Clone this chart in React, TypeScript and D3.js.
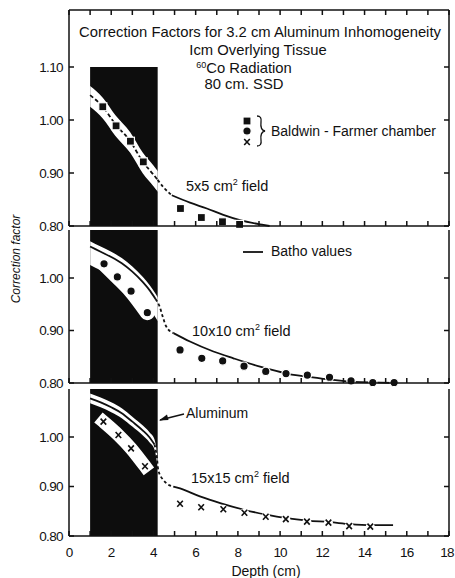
import React, { useEffect, useRef } from 'react';
import * as d3 from 'd3';

// depth (cm) on x, correction factor on y
const depthLabels = [0, 2, 4, 6, 8, 10, 12, 14, 16, 18];
const factorLabels5 = [1.1, 1.0, 0.9, 0.8];
const factorLabels = [1.0, 0.9, 0.8];
const aluminumSlab = [1.0, 4.2];

// 5x5 cm2 field - squares
const squareDepth = [1.6, 2.23, 2.91, 3.52, 5.28, 6.27, 7.27, 8.08];
const squareFactor = [1.025, 0.989, 0.96, 0.921, 0.833, 0.816, 0.808, 0.803];
const batho5AlDepth = [1.0, 1.6, 2.2, 2.9, 3.5, 4.0, 4.2];
const batho5AlFactor = [1.047, 1.025, 0.992, 0.96, 0.921, 0.897, 0.887];
const batho5EdgeDepth = [4.2, 4.5, 4.87];
const batho5EdgeFactor = [0.887, 0.872, 0.858];
const batho5TissueDepth = [4.87, 5.73, 6.53, 7.31, 8.1, 9.21, 9.5];
const batho5TissueFactor = [0.858, 0.844, 0.833, 0.821, 0.811, 0.802, 0.8];

// 10x10 cm2 field - circles
const circleDepth = [1.66, 2.29, 2.94, 3.71, 5.26, 6.29, 7.28, 8.29, 9.32, 10.28, 11.29, 12.34, 13.36, 14.39, 15.4];
const circleFactor = [1.027, 1.002, 0.975, 0.934, 0.863, 0.847, 0.842, 0.832, 0.822, 0.818, 0.815, 0.811, 0.804, 0.801, 0.801];
const batho10AlDepth = [1.0, 1.5, 2.0, 2.5, 3.0, 3.5, 3.85, 4.1];
const batho10AlFactor = [1.06, 1.05, 1.04, 1.028, 1.012, 0.992, 0.975, 0.96];
const batho10EdgeDepth = [4.1, 4.3, 4.45, 4.6, 4.95];
const batho10EdgeFactor = [0.96, 0.945, 0.925, 0.908, 0.895];
const batho10TissueDepth = [4.95, 5.73, 6.84, 7.79, 9.05, 10.32, 11.9, 13.47, 15.36];
const batho10TissueFactor = [0.895, 0.879, 0.86, 0.847, 0.831, 0.818, 0.809, 0.802, 0.8];

// 15x15 cm2 field - crosses
const crossDepth = [1.63, 2.34, 2.94, 3.6, 5.26, 6.26, 7.31, 8.31, 9.32, 10.27, 11.27, 12.29, 13.27, 14.27];
const crossFactor = [1.031, 1.004, 0.977, 0.941, 0.865, 0.858, 0.854, 0.847, 0.839, 0.834, 0.829, 0.827, 0.82, 0.819];
const batho15AlDepth = [1.0, 1.5, 2.0, 2.5, 3.0, 3.5, 3.8, 4.05];
const batho15AlFactor = [1.078, 1.07, 1.06, 1.048, 1.031, 1.013, 1.0, 0.985];
const batho15EdgeDepth = [4.05, 4.16, 4.23, 4.47, 4.63, 4.94];
const batho15EdgeFactor = [0.985, 0.96, 0.933, 0.913, 0.906, 0.9];
const batho15TissueDepth = [4.94, 5.26, 6.2, 7.2, 8.3, 9.35, 10.3, 11.3, 12.35, 13.3, 14.3, 15.35];
const batho15TissueFactor = [0.9, 0.896, 0.88, 0.866, 0.853, 0.843, 0.836, 0.831, 0.828, 0.824, 0.822, 0.822];

const FONT = "'Liberation Sans', Arial, sans-serif";
type Pt = [number, number];
const pairs = (d: number[], v: number[]): Pt[] => d.map((di, i) => [di, v[i]]);

const x = d3.scaleLinear().domain([0, 18]).range([69, 449]);

const panels = [
  {
    top: 10, bottom: 226, y: d3.scaleLinear().domain([0.8, 1.1]).range([226, 67]), rectFrom: 1.1,
    labels: factorLabels5, marker: 'square', mD: squareDepth, mV: squareFactor, nAl: 4,
    al: pairs(batho5AlDepth, batho5AlFactor), edge: pairs(batho5EdgeDepth, batho5EdgeFactor),
    tissue: pairs(batho5TissueDepth, batho5TissueFactor), band: [0.022, 0.017], alDash: '4,2.5',
    markerBand: 0, cap: 'round',
  },
  {
    top: 230, bottom: 383, y: d3.scaleLinear().domain([0.8, 1.0]).range([383, 278]), rectFrom: null,
    labels: factorLabels, marker: 'circle', mD: circleDepth, mV: circleFactor, nAl: 4,
    al: pairs(batho10AlDepth, batho10AlFactor), edge: pairs(batho10EdgeDepth, batho10EdgeFactor),
    tissue: pairs(batho10TissueDepth, batho10TissueFactor), band: [0.035, 0.01], alDash: null,
    markerBand: 15, cap: 'round',
  },
  {
    top: 389, bottom: 536, y: d3.scaleLinear().domain([0.8, 1.0]).range([536, 437]), rectFrom: null,
    labels: factorLabels, marker: 'cross', mD: crossDepth, mV: crossFactor, nAl: 4,
    al: pairs(batho15AlDepth, batho15AlFactor), edge: pairs(batho15EdgeDepth, batho15EdgeFactor),
    tissue: pairs(batho15TissueDepth, batho15TissueFactor), band: [0.01, 0.01], alDash: null,
    markerBand: 13, cap: 'square',
  },
];

const drawMarker = (g: any, kind: string, cx: number, cy: number) => {
  if (kind === 'square') {
    g.append('rect').attr('x', cx - 4).attr('y', cy - 4).attr('width', 8).attr('height', 8)
      .attr('fill', '#111').attr('stroke', '#fff').attr('stroke-width', 1.2);
  } else if (kind === 'circle') {
    g.append('circle').attr('cx', cx).attr('cy', cy).attr('r', 4.2)
      .attr('fill', '#111').attr('stroke', '#fff').attr('stroke-width', 1.2);
  } else {
    g.append('circle').attr('cx', cx).attr('cy', cy).attr('r', 4.5).attr('fill', '#fff');
    g.append('path').attr('d', `M${cx - 2.8},${cy - 3}L${cx + 2.8},${cy + 3}M${cx + 2.8},${cy - 3}L${cx - 2.8},${cy + 3}`)
      .attr('stroke', '#111').attr('stroke-width', 1.6).attr('fill', 'none');
  }
};

const App = () => {
  const ref = useRef<SVGSVGElement>(null);

  useEffect(() => {
    const svg = d3.select(ref.current);
    svg.selectAll('*').remove();
    const defs = svg.append('defs');
    const ink = '#111';

    panels.forEach((p, i) => {
      const g = svg.append('g');
      const y = p.y;
      const line = d3.line<Pt>().x(d => x(d[0])).y(d => y(d[1])).curve(d3.curveMonotoneX);
      const rectTop = p.rectFrom != null ? y(p.rectFrom) : p.top;
      const x0 = x(aluminumSlab[0]);
      const x1 = x(aluminumSlab[1]);

      // aluminum slab
      defs.append('clipPath').attr('id', `slab${i}`).append('rect')
        .attr('x', x0).attr('y', rectTop).attr('width', x1 - x0).attr('height', p.bottom - rectTop);
      g.append('rect').attr('x', x0).attr('y', rectTop).attr('width', x1 - x0).attr('height', p.bottom - rectTop)
        .attr('fill', '#0d0d0d');

      // white relief cut into the slab around the curve and points
      const inSlab = g.append('g').attr('clip-path', `url(#slab${i})`);
      const bandData = p.al.concat(p.edge.slice(1));
      const band = d3.area<Pt>().x(d => x(d[0]))
        .y0(d => y(d[1] - p.band[0])).y1(d => y(d[1] + p.band[1])).curve(d3.curveMonotoneX);
      inSlab.append('path').attr('d', band(bandData)).attr('fill', '#fff');
      if (p.markerBand) {
        const alMarks = pairs(p.mD.slice(0, p.nAl), p.mV.slice(0, p.nAl));
        inSlab.append('path').attr('d', line(alMarks)).attr('fill', 'none')
          .attr('stroke', '#fff').attr('stroke-width', p.markerBand).attr('stroke-linecap', p.cap);
      }

      // Batho curve
      g.append('path').attr('d', line(p.al)).attr('fill', 'none').attr('stroke', ink)
        .attr('stroke-width', 1.8).attr('stroke-dasharray', p.alDash);
      g.append('path').attr('d', line(p.edge)).attr('fill', 'none').attr('stroke', ink)
        .attr('stroke-width', 1.8).attr('stroke-dasharray', '3,2.5');
      g.append('path').attr('d', line(p.tissue)).attr('fill', 'none').attr('stroke', ink)
        .attr('stroke-width', 1.8);

      // measured points
      p.mD.forEach((d, k) => drawMarker(g, p.marker, x(d), y(p.mV[k])));

      // frame
      const frame = g.append('g').attr('stroke', ink).attr('stroke-width', 1.5).attr('fill', 'none');
      frame.append('line').attr('x1', x(0)).attr('x2', x(0)).attr('y1', p.top).attr('y2', p.bottom);
      frame.append('line').attr('x1', x(18)).attr('x2', x(18)).attr('y1', p.top).attr('y2', p.bottom);
      frame.append('line').attr('x1', x(0)).attr('x2', x(18)).attr('y1', p.bottom).attr('y2', p.bottom);
      x.ticks(18).forEach(t => {
        frame.append('line').attr('x1', x(t)).attr('x2', x(t)).attr('y1', p.bottom).attr('y2', p.bottom - 5);
        if (i === 0) {
          frame.append('line').attr('x1', x(t)).attr('x2', x(t)).attr('y1', p.top).attr('y2', p.top + 5);
        }
      });
      if (i === 0) {
        frame.append('line').attr('x1', x(0)).attr('x2', x(18)).attr('y1', p.top).attr('y2', p.top);
      }
      p.labels.forEach(v => {
        frame.append('line').attr('x1', x(0)).attr('x2', x(0) + 5).attr('y1', y(v)).attr('y2', y(v));
        frame.append('line').attr('x1', x(18)).attr('x2', x(18) - 5).attr('y1', y(v)).attr('y2', y(v));
        g.append('text').attr('x', x(0) - 6).attr('y', y(v)).attr('dy', '0.36em')
          .attr('text-anchor', 'end').attr('font-size', 13.5).attr('letter-spacing', -0.6)
          .attr('font-family', FONT).attr('fill', ink)
          .text(d3.format('.2f')(v));
      });
    });

    // depth axis labels
    depthLabels.forEach(t => {
      svg.append('text').attr('x', Math.min(x(t), 447)).attr('y', 557).attr('text-anchor', 'middle')
        .attr('font-size', 13.5).attr('letter-spacing', -0.8)
        .attr('font-family', FONT).attr('fill', ink).text(t);
    });
    svg.append('text').attr('x', 266).attr('y', 576).attr('text-anchor', 'middle')
      .attr('font-size', 14).attr('font-family', FONT).attr('fill', ink).text('Depth (cm)');
    svg.append('text').attr('transform', 'translate(20,259) rotate(-90)').attr('text-anchor', 'middle')
      .attr('font-size', 12).attr('font-style', 'italic').attr('font-family', FONT).attr('fill', ink)
      .text('Correction factor');

    // title block
    const txt = (tx: number, ty: number, anchor = 'start', size = 14) => svg.append('text')
      .attr('x', tx).attr('y', ty).attr('text-anchor', anchor).attr('font-size', size)
      .attr('font-family', FONT).attr('fill', ink);
    txt(260, 37, 'middle', 14.8).text('Correction Factors for 3.2 cm Aluminum Inhomogeneity');
    txt(258, 55, 'middle', 14.8).text('Icm Overlying Tissue');
    const co = txt(244, 73, 'middle', 14.8);
    co.append('tspan').attr('font-size', 9).attr('dy', -5).text('60');
    co.append('tspan').attr('dy', 5).text('Co Radiation');
    txt(244, 89, 'middle', 14.8).text('80 cm. SSD');

    // legend
    drawMarker(svg, 'square', 247, 121);
    drawMarker(svg, 'circle', 247, 131);
    drawMarker(svg, 'cross', 247, 142);
    svg.append('path').attr('d', 'M257,116 Q262,116 261,122 Q260,130 265,131 Q260,132 261,140 Q262,146 257,146')
      .attr('fill', 'none').attr('stroke', ink).attr('stroke-width', 1.3);
    txt(271, 136).text('Baldwin - Farmer chamber');
    svg.append('line').attr('x1', 243).attr('x2', 263).attr('y1', 252).attr('y2', 252)
      .attr('stroke', ink).attr('stroke-width', 1.8);
    txt(271, 256).text('Batho values');

    const field = (tx: number, ty: number, size: string) => {
      const t = txt(tx, ty, 'start', 14.5);
      t.append('tspan').text(`${size} cm`);
      t.append('tspan').attr('font-size', 9).attr('dy', -6).text('2');
      t.append('tspan').attr('dy', 6).text(' field');
    };
    field(186, 191, '5x5');
    field(192, 336, '10x10');
    field(191, 483, '15x15');

    // aluminum pointer
    txt(186, 418).text('Aluminum');
    svg.append('line').attr('x1', 184).attr('y1', 414).attr('x2', 160).attr('y2', 420)
      .attr('stroke', ink).attr('stroke-width', 1.3);
    svg.append('path').attr('d', 'M159,420.5 L167,414.5 L168.5,420 Z').attr('fill', ink);
  }, []);

  return (
    <svg ref={ref} width={455} height={578}
      style={{ position: 'absolute', left: 0, top: 0, background: '#fff' }} />
  );
};

export default App;
